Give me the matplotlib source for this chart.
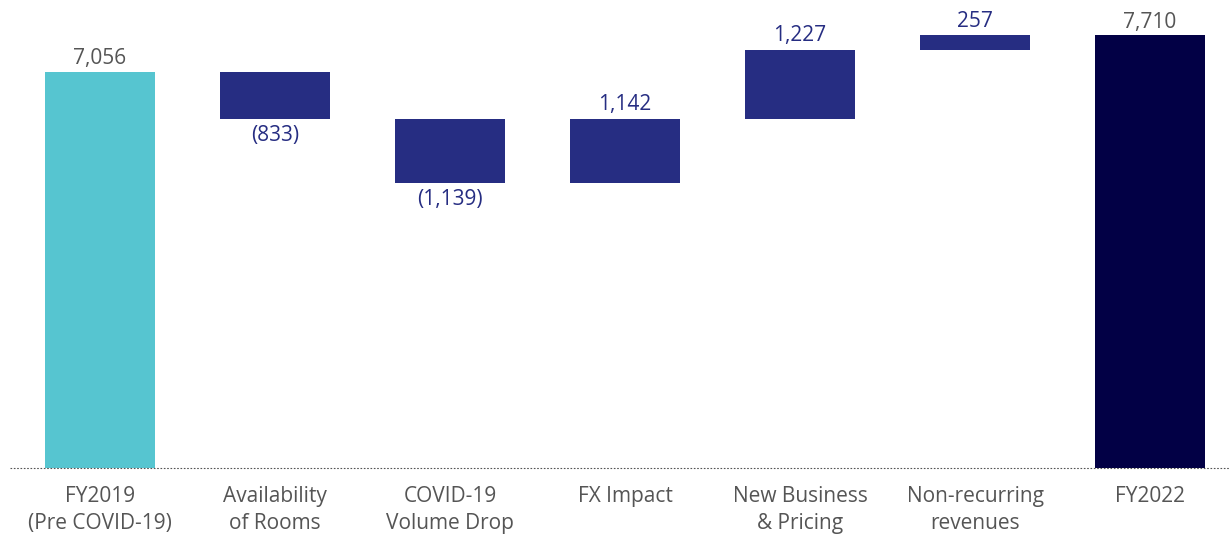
import matplotlib
matplotlib.use("Agg")
import matplotlib.pyplot as plt

categories = ["FY2019\n(Pre COVID-19)", "Availability\nof Rooms", "COVID-19\nVolume Drop",
              "FX Impact", "New Business\n& Pricing", "Non-recurring\nrevenues", "FY2022"]
changes = [7056, -833, -1139, 1142, 1227, 257, 7710]
is_total = [True, False, False, False, False, False, True]

total_colors = {0: "#56c5d0", 6: "#020045"}
step_color = "#262d82"
text_grey = "#555555"

plt.rcParams["font.family"] = ["Open Sans", "DejaVu Sans"]

fig = plt.figure(figsize=(12.29, 5.36), dpi=100)
ax = fig.add_axes([0, 68 / 536, 1, 468 / 536])

running = 0
for i, (cat, val, tot) in enumerate(zip(categories, changes, is_total)):
    if tot:
        running = val
        ax.bar(i, val, width=0.63, color=total_colors[i])
        ax.text(i, val + 50, f"{val:,}", ha="center", va="bottom", fontsize=15, color=text_grey)
    else:
        start = running
        running += val
        bottom = min(start, running)
        ax.bar(i, abs(val), bottom=bottom, width=0.63, color=step_color)
        if val < 0:
            ax.text(i, running - 110, f"({abs(val):,})", ha="center", va="top",
                    fontsize=15, color=step_color)
        else:
            ax.text(i, running + 60, f"{val:,}", ha="center", va="bottom",
                    fontsize=15, color=step_color)

x_left, x_right = (0 - 100) / 175, (1229 - 100) / 175

# dotted baseline
ax.plot([(10 - 100) / 175, x_right], [0, 0], color="#555555",
        linestyle=(0, (1.5, 1.5)), linewidth=0.8, clip_on=False, zorder=5)

ax.set_xlim(x_left, x_right)
ax.set_ylim(0, 468 / 0.05612)
ax.set_xticks(range(len(categories)))
ax.set_xticklabels(categories, fontsize=15, color=text_grey, linespacing=1.4)
ax.tick_params(axis="x", length=0, pad=13)
ax.set_yticks([])
for s in ax.spines.values():
    s.set_visible(False)

fig.savefig("out.png", dpi=100, facecolor="white")
